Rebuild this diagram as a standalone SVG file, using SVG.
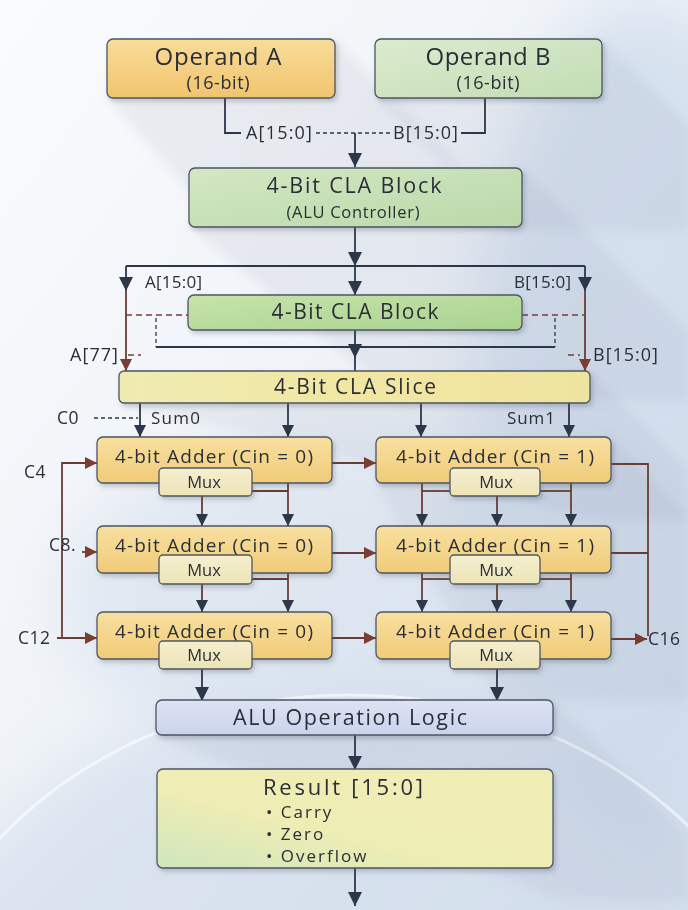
<svg xmlns="http://www.w3.org/2000/svg" width="688" height="910" viewBox="0 0 688 910">
<defs>
  <linearGradient id="bg" x1="0" y1="0" x2="1" y2="1">
    <stop offset="0" stop-color="#FAFBFD"/>
    <stop offset="0.5" stop-color="#EEF2F7"/>
    <stop offset="1" stop-color="#DCE5F0"/>
  </linearGradient>
  <linearGradient id="gOrange" x1="0" y1="0" x2="0" y2="1">
    <stop offset="0" stop-color="#F8DC98"/>
    <stop offset="1" stop-color="#F1C46E"/>
  </linearGradient>
  <linearGradient id="gGreenB" x1="0" y1="0" x2="1" y2="1">
    <stop offset="0" stop-color="#DCEBCF"/>
    <stop offset="1" stop-color="#C2DDB4"/>
  </linearGradient>
  <linearGradient id="gGreen1" x1="0" y1="0" x2="1" y2="1">
    <stop offset="0" stop-color="#D3E7C3"/>
    <stop offset="1" stop-color="#BAD9AA"/>
  </linearGradient>
  <linearGradient id="gGreen2" x1="0" y1="0" x2="1" y2="1">
    <stop offset="0" stop-color="#C7E3AB"/>
    <stop offset="1" stop-color="#A9D38F"/>
  </linearGradient>
  <linearGradient id="gSlice" x1="0" y1="0" x2="1" y2="0">
    <stop offset="0" stop-color="#EEEBB2"/>
    <stop offset="0.5" stop-color="#F2E7A2"/>
    <stop offset="1" stop-color="#EFE3A0"/>
  </linearGradient>
  <linearGradient id="gAdder" x1="0" y1="0" x2="0" y2="1">
    <stop offset="0" stop-color="#F8E0A0"/>
    <stop offset="1" stop-color="#F0CB78"/>
  </linearGradient>
  <linearGradient id="gMux" x1="0" y1="0" x2="0" y2="1">
    <stop offset="0" stop-color="#F5EFCF"/>
    <stop offset="1" stop-color="#ECE3B6"/>
  </linearGradient>
  <linearGradient id="gBlue" x1="0" y1="0" x2="0" y2="1">
    <stop offset="0" stop-color="#DDE3F3"/>
    <stop offset="1" stop-color="#C9D3EC"/>
  </linearGradient>
  <linearGradient id="gResult" x1="0" y1="1" x2="1" y2="0">
    <stop offset="0" stop-color="#CFE6BE"/>
    <stop offset="0.4" stop-color="#EEEDB4"/>
    <stop offset="1" stop-color="#F1EDB6"/>
  </linearGradient>
  <filter id="blur30" x="-50%" y="-50%" width="200%" height="200%">
    <feGaussianBlur stdDeviation="30"/>
  </filter>
  <filter id="blur6" x="-20%" y="-20%" width="140%" height="140%">
    <feGaussianBlur stdDeviation="6"/>
  </filter>
  <filter id="ds" x="-10%" y="-10%" width="130%" height="140%">
    <feDropShadow dx="2" dy="3" stdDeviation="2" flood-color="#3A4558" flood-opacity="0.25"/>
  </filter>
  <marker id="arr" viewBox="0 0 12 12" markerWidth="12" markerHeight="12" refX="12" refY="6" orient="auto" markerUnits="userSpaceOnUse">
    <path d="M0,0 L12,6 L0,12 z" fill="#2D374A"/>
  </marker>
  <marker id="arrL" viewBox="0 0 14 14" markerWidth="14" markerHeight="14" refX="14" refY="7" orient="auto" markerUnits="userSpaceOnUse">
    <path d="M0,0 L14,7 L0,14 z" fill="#2D374A"/>
  </marker>
  <marker id="arrB" viewBox="0 0 12 12" markerWidth="12" markerHeight="12" refX="12" refY="6" orient="auto" markerUnits="userSpaceOnUse">
    <path d="M0,0 L12,6 L0,12 z" fill="#7A3E30"/>
  </marker>
  <style>
    .box { stroke: #4E5562; stroke-width: 1.3; }
    .t { font-family: "Open Sans", "Liberation Sans", sans-serif; fill: #2A2E36; }
    .c { text-anchor: middle; }
    .dk { stroke: #2D374A; stroke-width: 1.8; fill: none; }
    .br { stroke: #6A3D34; stroke-width: 1.8; fill: none; }
    .brd { stroke: #7A3E30; stroke-width: 1.5; fill: none; stroke-dasharray: 6 4; }
    .dkd { stroke: #2D374A; stroke-width: 1.3; fill: none; stroke-dasharray: 4 3; }
    .sh { fill: #8A97AE; opacity: 0.12; }
    .cl { font-size: 17.5px; letter-spacing: 0.5px; }
    .mux { font-size: 16.5px; text-anchor: middle; }
    .bul { font-size: 17px; letter-spacing: 2px; }
  </style>
</defs>

<g id="background">
  <rect x="0" y="0" width="688" height="910" fill="url(#bg)"/>
  <ellipse cx="640" cy="420" rx="170" ry="420" fill="#C3D4E8" opacity="0.55" filter="url(#blur30)"/>
  <ellipse cx="360" cy="600" rx="300" ry="160" fill="#D3DFEC" opacity="0.55" filter="url(#blur30)"/>
  <ellipse cx="350" cy="1080" rx="460" ry="390" fill="#CCD9EA" opacity="0.55" filter="url(#blur30)"/>
  <ellipse cx="350" cy="1080" rx="450" ry="385" fill="none" stroke="#FFFFFF" stroke-width="3" opacity="0.6"/>
  <g filter="url(#blur6)">
    <polygon class="sh" points="335,40 460,165 460,225 220,225 107,98"/>
    <polygon class="sh" points="602,40 688,126 688,230 510,230 375,98"/>
    <polygon class="sh" points="522,168 688,334 688,400 400,400 189,227"/>
    <polygon class="sh" points="590,372 688,470 688,520 600,520 119,403"/>
    <polygon class="sh" points="611,437 688,514 688,700 500,700 376,483"/>
    <polygon class="sh" points="553,700 688,835 688,900 560,900 156,735"/>
  </g>
</g>

<g id="connectors">
  <polyline class="dk" points="225,98 225,133 241,133"/>
  <line class="dkd" x1="316" y1="133" x2="390" y2="133"/>
  <polyline class="dk" points="461,133 485,133 485,98"/>
  <line class="dk" x1="355" y1="133" x2="355" y2="167" marker-end="url(#arrL)"/>
  <line class="dk" x1="355" y1="227" x2="355" y2="266" marker-end="url(#arrL)"/>
  <line class="dk" x1="126" y1="266" x2="585" y2="266"/>
  <line class="dk" x1="126" y1="266" x2="126" y2="291" marker-end="url(#arrL)"/>
  <line class="dk" x1="355" y1="266" x2="355" y2="295" marker-end="url(#arrL)"/>
  <line class="dk" x1="585" y1="266" x2="585" y2="291" marker-end="url(#arrL)"/>
  <line class="br" x1="126" y1="291" x2="126" y2="371" marker-end="url(#arrB)"/>
  <line class="br" x1="585" y1="291" x2="585" y2="371" marker-end="url(#arrB)"/>
  <line class="brd" x1="126" y1="315" x2="188" y2="315"/>
  <line class="brd" x1="522" y1="315" x2="585" y2="315"/>
  <line class="dkd" x1="156" y1="318" x2="156" y2="347"/>
  <line class="dkd" x1="555" y1="318" x2="555" y2="347"/>
  <line class="dk" x1="156" y1="347" x2="555" y2="347" stroke-width="1.5"/>
  <line class="dk" x1="355" y1="330" x2="355" y2="358" marker-end="url(#arrL)"/>
  <line class="dk" x1="355" y1="357" x2="355" y2="371"/>
  <line class="brd" x1="128" y1="355" x2="141" y2="355"/>
  <line class="brd" x1="568" y1="355" x2="580" y2="355"/>
  <line class="dk" x1="140" y1="403" x2="140" y2="437" marker-end="url(#arr)"/>
  <line class="dk" x1="288" y1="403" x2="288" y2="437" marker-end="url(#arr)"/>
  <line class="dk" x1="421" y1="403" x2="421" y2="437" marker-end="url(#arr)"/>
  <line class="dk" x1="569" y1="403" x2="569" y2="437" marker-end="url(#arr)"/>
  <line class="dkd" x1="94" y1="418" x2="138" y2="418"/>
  <line class="br" x1="252" y1="491" x2="288" y2="491"/>
  <line class="br" x1="288" y1="483" x2="288" y2="526" marker-end="url(#arr)"/>
  <line class="br" x1="202" y1="496" x2="202" y2="526" marker-end="url(#arr)"/>
  <line class="br" x1="422" y1="491" x2="450" y2="491"/>
  <line class="br" x1="540" y1="491" x2="571" y2="491"/>
  <line class="br" x1="422" y1="483" x2="422" y2="526" marker-end="url(#arr)"/>
  <line class="br" x1="497" y1="496" x2="497" y2="526" marker-end="url(#arr)"/>
  <line class="br" x1="571" y1="483" x2="571" y2="526" marker-end="url(#arr)"/>
  <line class="br" x1="252" y1="579" x2="288" y2="579"/>
  <line class="br" x1="288" y1="573" x2="288" y2="612" marker-end="url(#arr)"/>
  <line class="br" x1="202" y1="584" x2="202" y2="612" marker-end="url(#arr)"/>
  <line class="br" x1="422" y1="579" x2="450" y2="579"/>
  <line class="br" x1="540" y1="579" x2="571" y2="579"/>
  <line class="br" x1="422" y1="573" x2="422" y2="612" marker-end="url(#arr)"/>
  <line class="br" x1="497" y1="584" x2="497" y2="612" marker-end="url(#arr)"/>
  <line class="br" x1="571" y1="573" x2="571" y2="612" marker-end="url(#arr)"/>
  <line class="br" x1="332" y1="463" x2="376" y2="463" marker-end="url(#arrB)"/>
  <line class="br" x1="332" y1="553" x2="376" y2="553" marker-end="url(#arrB)"/>
  <line class="br" x1="332" y1="638" x2="376" y2="638" marker-end="url(#arrB)"/>
  <polyline class="br" points="97,463 62,463 62,638" stroke-width="1.5"/>
  <line class="br" x1="62" y1="463" x2="97" y2="463" marker-end="url(#arrB)"/>
  <line class="br" x1="82" y1="552" x2="97" y2="552" marker-end="url(#arrB)"/>
  <line class="br" x1="57" y1="638" x2="97" y2="638" marker-end="url(#arrB)"/>
  <polyline class="br" points="611,464 648,464 648,636" stroke-width="1.5"/>
  <line class="br" x1="611" y1="553" x2="648" y2="553" stroke-width="1.5"/>
  <line class="br" x1="611" y1="639" x2="647" y2="639" marker-end="url(#arrB)"/>
  <line class="dk" x1="202" y1="669" x2="202" y2="701" marker-end="url(#arrL)"/>
  <line class="dk" x1="497" y1="669" x2="497" y2="701" marker-end="url(#arrL)"/>
  <line class="dk" x1="355" y1="735" x2="355" y2="770" marker-end="url(#arrL)"/>
  <line class="dk" x1="355" y1="868" x2="355" y2="906" marker-end="url(#arrL)"/>
</g>

<g id="operand-a" filter="url(#ds)">
  <rect class="box" x="107" y="39" width="228" height="59" rx="6" fill="url(#gOrange)"/>
  <text class="t c" x="218" y="65" font-size="24" textLength="127" lengthAdjust="spacing">Operand A</text>
  <text class="t c" x="218" y="89" font-size="18" textLength="63" lengthAdjust="spacing">(16-bit)</text>
</g>
<g id="operand-b" filter="url(#ds)">
  <rect class="box" x="375" y="39" width="227" height="59" rx="6" fill="url(#gGreenB)"/>
  <text class="t c" x="488" y="65" font-size="24" textLength="125" lengthAdjust="spacing">Operand B</text>
  <text class="t c" x="488" y="89" font-size="18" textLength="63" lengthAdjust="spacing">(16-bit)</text>
</g>
<g id="bus-labels-top">
  <text class="t" x="246" y="139" font-size="18" textLength="66" lengthAdjust="spacing">A[15:0]</text>
  <text class="t" x="393" y="139" font-size="18" textLength="65" lengthAdjust="spacing">B[15:0]</text>
</g>
<g id="cla-controller" filter="url(#ds)">
  <rect class="box" x="189" y="168" width="333" height="59" rx="6" fill="url(#gGreen1)"/>
  <text class="t c" x="354" y="193" font-size="21.5" textLength="175" lengthAdjust="spacing">4-Bit CLA Block</text>
  <text class="t c" x="353" y="218" font-size="16.5" textLength="133" lengthAdjust="spacing">(ALU Controller)</text>
</g>
<g id="bus-labels-mid">
  <text class="t" x="145" y="288" font-size="17" textLength="57" lengthAdjust="spacing">A[15:0]</text>
  <text class="t" x="514" y="288" font-size="17" textLength="57" lengthAdjust="spacing">B[15:0]</text>
  <text class="t" x="70" y="361" font-size="18" textLength="48" lengthAdjust="spacing">A[77]</text>
  <text class="t" x="593" y="361" font-size="18" textLength="65" lengthAdjust="spacing">B[15:0]</text>
</g>
<g id="cla-block" filter="url(#ds)">
  <rect class="box" x="188" y="295" width="334" height="35" rx="6" fill="url(#gGreen2)"/>
  <text class="t c" x="355" y="319" font-size="21" textLength="167" lengthAdjust="spacing">4-Bit CLA Block</text>
</g>
<g id="cla-slice" filter="url(#ds)">
  <rect class="box" x="119" y="371" width="471" height="32" rx="5" fill="url(#gSlice)"/>
  <text class="t c" x="355" y="394" font-size="21" textLength="162" lengthAdjust="spacing">4-Bit CLA Slice</text>
</g>
<g id="slice-labels">
  <text class="t cl" x="57" y="424">C0</text>
  <text class="t" x="151" y="424" font-size="17" textLength="49" lengthAdjust="spacing">Sum0</text>
  <text class="t" x="507" y="424" font-size="17" textLength="48" lengthAdjust="spacing">Sum1</text>
</g>

<g id="adder-l1" filter="url(#ds)">
  <rect class="box" x="97" y="437" width="235" height="46" rx="6" fill="url(#gAdder)"/>
  <text class="t c" x="214" y="463" font-size="19" textLength="198" lengthAdjust="spacing">4-bit Adder (Cin = 0)</text>
  <rect class="box" x="159" y="468" width="93" height="28" rx="4" fill="url(#gMux)"/>
  <text class="t mux" x="204" y="488">Mux</text>
</g>
<g id="adder-r1" filter="url(#ds)">
  <rect class="box" x="376" y="437" width="235" height="46" rx="6" fill="url(#gAdder)"/>
  <text class="t c" x="495" y="463" font-size="19" textLength="198" lengthAdjust="spacing">4-bit Adder (Cin = 1)</text>
  <rect class="box" x="450" y="468" width="90" height="28" rx="4" fill="url(#gMux)"/>
  <text class="t mux" x="496" y="488">Mux</text>
</g>
<g id="adder-l2" filter="url(#ds)">
  <rect class="box" x="97" y="526" width="235" height="47" rx="6" fill="url(#gAdder)"/>
  <text class="t c" x="214" y="552" font-size="19" textLength="198" lengthAdjust="spacing">4-bit Adder (Cin = 0)</text>
  <rect class="box" x="159" y="555" width="93" height="29" rx="4" fill="url(#gMux)"/>
  <text class="t mux" x="204" y="576">Mux</text>
</g>
<g id="adder-r2" filter="url(#ds)">
  <rect class="box" x="376" y="526" width="235" height="47" rx="6" fill="url(#gAdder)"/>
  <text class="t c" x="495" y="552" font-size="19" textLength="198" lengthAdjust="spacing">4-bit Adder (Cin = 1)</text>
  <rect class="box" x="450" y="555" width="90" height="29" rx="4" fill="url(#gMux)"/>
  <text class="t mux" x="496" y="576">Mux</text>
</g>
<g id="adder-l3" filter="url(#ds)">
  <rect class="box" x="97" y="612" width="235" height="47" rx="6" fill="url(#gAdder)"/>
  <text class="t c" x="214" y="638" font-size="19" textLength="198" lengthAdjust="spacing">4-bit Adder (Cin = 0)</text>
  <rect class="box" x="159" y="641" width="93" height="28" rx="4" fill="url(#gMux)"/>
  <text class="t mux" x="204" y="661">Mux</text>
</g>
<g id="adder-r3" filter="url(#ds)">
  <rect class="box" x="376" y="612" width="235" height="47" rx="6" fill="url(#gAdder)"/>
  <text class="t c" x="495" y="638" font-size="19" textLength="198" lengthAdjust="spacing">4-bit Adder (Cin = 1)</text>
  <rect class="box" x="450" y="641" width="90" height="28" rx="4" fill="url(#gMux)"/>
  <text class="t mux" x="496" y="661">Mux</text>
</g>
<g id="carry-labels">
  <text class="t cl" x="24" y="478">C4</text>
  <text class="t cl" x="49" y="551">C8.</text>
  <text class="t cl" x="18" y="644">C12</text>
  <text class="t cl" x="648" y="645">C16</text>
</g>

<g id="alu-op" filter="url(#ds)">
  <rect class="box" x="156" y="700" width="397" height="35" rx="6" fill="url(#gBlue)"/>
  <text class="t c" x="350" y="725" font-size="21.5" textLength="234" lengthAdjust="spacing">ALU Operation Logic</text>
</g>
<g id="result" filter="url(#ds)">
  <rect class="box" x="157" y="769" width="396" height="99" rx="6" fill="url(#gResult)"/>
  <text class="t" x="263" y="795" font-size="22" textLength="160" lengthAdjust="spacing">Result [15:0]</text>
  <text class="t bul" x="266" y="818">• Carry</text>
  <text class="t bul" x="266" y="840">• Zero</text>
  <text class="t bul" x="266" y="862">• Overflow</text>
</g>
</svg>
